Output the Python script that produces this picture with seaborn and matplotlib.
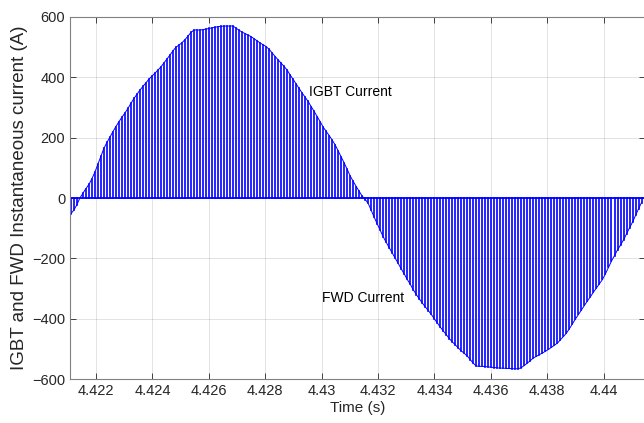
import numpy as np
import pandas as pd
import matplotlib
matplotlib.use('Agg')
import matplotlib.pyplot as plt
from matplotlib.ticker import FormatStrFormatter
import seaborn as sns

# PWM switching instants: one pulse per switching period
t_start = 4.42111
t_step = 1.065e-4

# current at each pulse (A)
current = [
    -52, -40, -22, 0, 16, 31, 45, 64, 86, 112,
    139, 165, 184, 202, 220, 237, 253, 268, 282, 297,
    314, 330, 344, 358, 370, 382, 394, 404, 414, 424,
    435, 448, 461, 474, 488, 500, 507, 515, 525, 537,
    549, 557, 557, 557, 558, 560, 562, 564, 566, 568,
    569, 570, 570, 570, 570, 563, 556, 550, 545, 540,
    535, 528, 521, 514, 508, 502, 493, 481, 469, 458,
    447, 436, 424, 408, 393, 378, 363, 348, 334, 320,
    303, 287, 270, 253, 235, 221, 207, 192, 176, 156,
    136, 116, 95, 73, 55, 38, 22, 6, -5, -18,
    -41, -64, -86, -107, -129, -147, -165, -182, -200, -217,
    -235, -252, -270, -286, -304, -320, -334, -348, -361, -373,
    -386, -400, -414, -428, -441, -453, -466, -477, -487, -497,
    -507, -515, -524, -536, -548, -557, -558, -558, -559, -560,
    -561, -562, -563, -564, -564, -565, -565, -566, -566, -566,
    -562, -555, -547, -539, -530, -525, -519, -514, -508, -502,
    -495, -488, -481, -470, -459, -448, -433, -417, -401, -386,
    -371, -356, -341, -327, -312, -298, -284, -270, -251, -230,
    -209, -191, -172, -156, -139, -119, -99, -80, -58, -36,
    -15,
]

x_ticks = [4.422, 4.424, 4.426, 4.428, 4.43, 4.432, 4.434, 4.436, 4.438, 4.44]
y_ticks = [-600, -400, -200, 0, 200, 400, 600]

t = t_start + t_step * np.arange(len(current))

# each pulse drawn as a vertical segment from 0 to the current value
stems = pd.DataFrame({
    't': np.repeat(t, 2),
    'i': np.ravel(np.column_stack([np.zeros(len(current)), current])),
    'pulse': np.repeat(np.arange(len(current)), 2),
})

plt.rcParams['font.family'] = ['Liberation Sans', 'DejaVu Sans']

fig = plt.figure(figsize=(6.44, 4.23), dpi=100)
ax = fig.add_axes([70 / 644, 44 / 423, 575 / 644, 362 / 423])

sns.lineplot(data=stems, x='t', y='i', units='pulse', estimator=None,
             color='#0000ff', linewidth=1.2, legend=False, ax=ax)
sns.lineplot(x=t, y=current, estimator=None, sort=False,
             color='#0000ff', linewidth=0.7, ax=ax)
ax.axhline(0, color='#0000ff', linewidth=1.3)

ax.text(4.42956, 353, 'IGBT Current', fontsize=10, va='center', ha='left')
ax.text(4.43002, -333, 'FWD Current', fontsize=10, va='center', ha='left')

ax.set_xlim(4.421078, 4.441468)
ax.set_ylim(-600, 600)
ax.set_xticks(x_ticks)
ax.set_yticks(y_ticks)
ax.xaxis.set_major_formatter(FormatStrFormatter('%g'))
ax.set_xlabel('Time (s)', fontsize=11, color='#262626', labelpad=2)
ax.set_ylabel('IGBT and FWD Instantaneous current (A)', fontsize=13.5,
              color='#262626', labelpad=3)

ax.grid(True, color='#262626', alpha=0.15, linewidth=0.6)
ax.set_axisbelow(True)
ax.tick_params(direction='in', length=4, width=0.6, colors='#262626',
               labelsize=10.5, top=True, right=True)
for s in ax.spines.values():
    s.set_color('#808080')
    s.set_linewidth(0.8)

fig.savefig('out.png', dpi=100)
